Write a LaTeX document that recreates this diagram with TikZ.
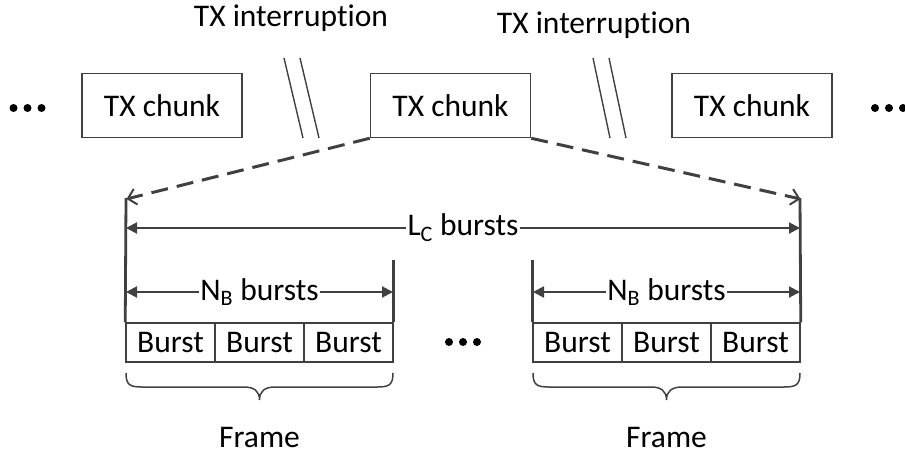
\documentclass[tikz,border=0pt]{standalone}
\usepackage{fontspec}
\setmainfont{Carlito}[Ligatures=NoCommon]
\usetikzlibrary{arrows.meta}
\definecolor{ink}{HTML}{404040}
\begin{document}
\begin{tikzpicture}[x=1pt,y=-1pt,
  every node/.style={font=\fontsize{31.5}{38}\selectfont, text=black},
  chunk/.style={draw=ink, line width=1.5pt, minimum width=160pt, minimum height=64pt, inner sep=0pt},
  cell/.style={draw=ink, line width=1.5pt, minimum width=89pt, minimum height=39pt, inner sep=0pt},
  gap/.style={draw=ink, line width=1.4pt},
  zoomline/.style={draw=ink, line width=3pt, dash pattern=on 17pt off 9pt, -{Straight Barb[length=8pt,width=16pt,line width=2pt]}},
  span/.style={draw=ink, line width=2pt, {Triangle[length=11pt,width=11pt]}-{Triangle[length=11pt,width=11pt]}},
  spanlabel/.style={fill=white, inner xsep=1.5pt, inner ysep=0pt},
  edge/.style={draw=ink, line width=2.8pt},
  brace/.style={draw=ink, line width=1.5pt},
  dot/.style={circle, fill=black, inner sep=0pt, minimum size=8pt}
]
\useasboundingbox (0,0) rectangle (905,456);

% transmitted chunks
\node[chunk] (c1) at (162,105.5) {TX chunk};
\node[chunk] (c2) at (450.5,105.5) {TX chunk};
\node[chunk] (c3) at (752,105.5) {TX chunk};

% continuation dots
\foreach \x [count=\i] in {13.5,27.5,41.5} \node[dot] (dl\i) at (\x,108) {};
\foreach \x [count=\i] in {875,889,903} \node[dot] (dr\i) at (\x,108) {};
\foreach \x [count=\i] in {449,463,477} \node[dot] (dm\i) at (\x,342) {};

% interruptions between chunks
\node[anchor=base] (i1) at (291,26) {TX interruption};
\node[anchor=base] (i2) at (594,33) {TX interruption};
\coordinate (g1a) at (284,58); \coordinate (g1b) at (303,138);
\coordinate (g1c) at (300,58); \coordinate (g1d) at (319,138);
\coordinate (g2a) at (593,58); \coordinate (g2b) at (610,138);
\coordinate (g2c) at (609,58); \coordinate (g2d) at (626,138);
\draw[gap] (g1a) -- (g1b);
\draw[gap] (g1c) -- (g1d);
\draw[gap] (g2a) -- (g2b);
\draw[gap] (g2c) -- (g2d);

% bursts of the two frames
\node[cell] (b11) at (170.5,342.5) {Burst};
\node[cell] (b12) at (259.5,342.5) {Burst};
\node[cell] (b13) at (348.5,342.5) {Burst};
\node[cell] (b21) at (577.5,342.5) {Burst};
\node[cell] (b22) at (666.5,342.5) {Burst};
\node[cell] (b23) at (755.5,342.5) {Burst};

% chunk extent
\coordinate (lt) at (126,198);
\coordinate (rt) at (800,198);
\draw[edge] (lt) -- (b11.north west);
\draw[edge] (rt) -- (b23.north east);
\coordinate (f1r) at (b13.north east |- 0,260);
\coordinate (f2l) at (b21.north west |- 0,260);
\draw[edge] (f1r) -- (b13.north east);
\draw[edge] (f2l) -- (b21.north west);

% zoom from the middle chunk
\coordinate (zl) at (126.5,199);
\coordinate (zr) at (800.5,199);
\draw[zoomline] (c2.south west) -- (zl);
\draw[zoomline] (c2.south east) -- (zr);

% spans
\coordinate (lcl) at (126,228); \coordinate (lcr) at (800,228);
\draw[span] (lcl) -- (lcr) node[spanlabel, midway] (lc) {L\textsubscript{C} bursts};
\coordinate (n1l) at (126,292); \coordinate (n1r) at (393,292);
\draw[span] (n1l) -- (n1r) node[spanlabel, midway] (n1) {N\textsubscript{B} bursts};
\coordinate (n2l) at (533,292); \coordinate (n2r) at (800,292);
\draw[span] (n2l) -- (n2r) node[spanlabel, midway] (n2) {N\textsubscript{B} bursts};

% frame braces
\draw[brace] (126,373) .. controls (126,385) and (130,387) .. (142,387) -- (244,387)
  .. controls (254,387) and (259.5,391) .. (259.5,400)
  .. controls (259.5,391) and (265,387) .. (275,387) -- (377,387)
  .. controls (389,387) and (393,385) .. (393,373);
\draw[brace] (533,373) .. controls (533,385) and (537,387) .. (549,387) -- (651,387)
  .. controls (661,387) and (666.5,391) .. (666.5,400)
  .. controls (666.5,391) and (672,387) .. (682,387) -- (784,387)
  .. controls (796,387) and (800,385) .. (800,373);
\node[anchor=base] (fr1) at (259.5,447) {Frame};
\node[anchor=base] (fr2) at (666.5,447) {Frame};
\end{tikzpicture}
\end{document}
